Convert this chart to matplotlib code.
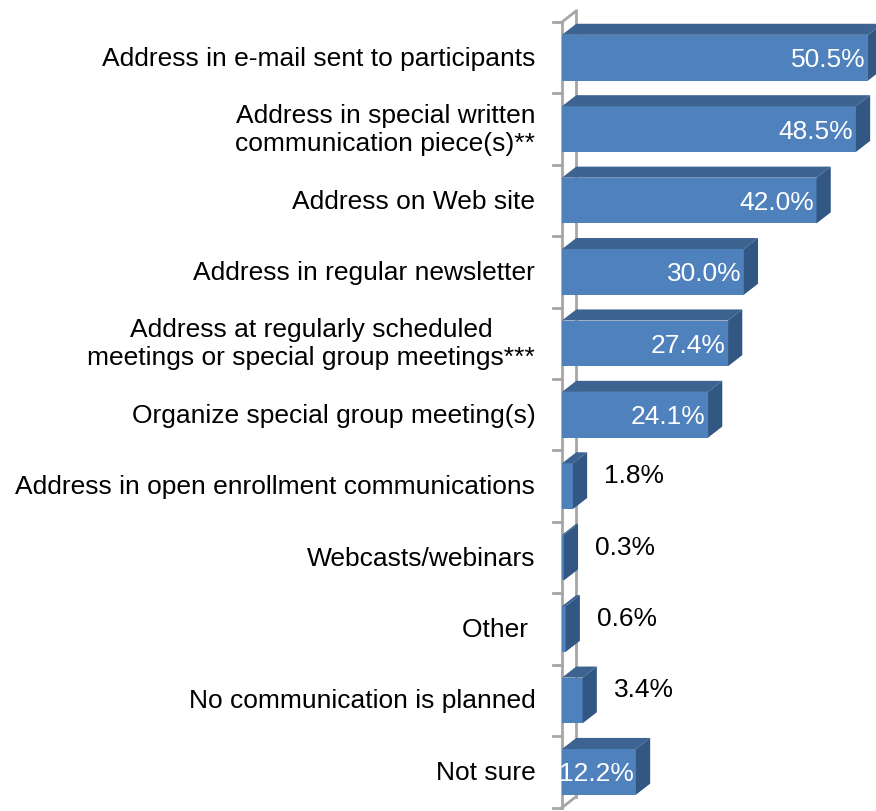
import numpy as np
import matplotlib.pyplot as plt
from matplotlib.patches import Polygon

plt.rcParams['font.family'] = ['Liberation Sans', 'DejaVu Sans']

categories = [
    'Address in e-mail sent to participants',
    'Address in special written\ncommunication piece(s)**',
    'Address on Web site',
    'Address in regular newsletter',
    'Address at regularly scheduled\nmeetings or special group meetings***',
    'Organize special group meeting(s)',
    'Address in open enrollment communications',
    'Webcasts/webinars',
    'Other ',
    'No communication is planned',
    'Not sure',
]
values = [50.5, 48.5, 42.0, 30.0, 27.4, 24.1, 1.8, 0.3, 0.6, 3.4, 12.2]

front = '#4f81bd'
top = '#3d6491'
side = '#325783'
wall = '#a6a6a6'

# 3d depth of the bars, in data units
dx, dy = 2.35, 0.155
h = 0.64
fs = 19

fig = plt.figure(figsize=(8.76, 8.12), dpi=100)
ax = fig.add_axes([562 / 876, 2 / 812, 314 / 876, 802 / 812])
n = len(categories)
ax.set_xlim(0, 314 / 6.06)
ax.set_ylim(n - 0.5 + 0.02, -0.5 - 15 / 71.5)
ax.axis('off')

# wall: front edge, back edge and the diagonals joining them
ax.plot([0, 0], [-0.5, n - 0.5], color=wall, lw=2, zorder=1, clip_on=False)
ax.plot([dx, dx], [-0.5 - dy, n - 0.5 - dy], color=wall, lw=2, zorder=1, clip_on=False)
ax.plot([0, dx], [-0.5, -0.5 - dy], color=wall, lw=2, zorder=1, clip_on=False)
ax.plot([0, dx], [n - 0.5, n - 0.5 - dy], color=wall, lw=2, zorder=1, clip_on=False)
for k in range(n + 1):
    ax.plot([-1.5, 0], [k - 0.5, k - 0.5], color=wall, lw=2, zorder=1, clip_on=False)

ypos = np.arange(n)
ax.barh(ypos, values, height=h, color=front, zorder=3)
for y, v in zip(ypos, values):
    y0, y1 = y - h / 2, y + h / 2
    ax.add_patch(Polygon([(0, y0), (v, y0), (v + dx, y0 - dy), (dx, y0 - dy)],
                         closed=True, facecolor=top, edgecolor='none', zorder=3))
    ax.add_patch(Polygon([(v, y0), (v + dx, y0 - dy), (v + dx, y1 - dy), (v, y1)],
                         closed=True, facecolor=side, edgecolor='none', zorder=3))
    if v > 10:
        ax.text(v - 0.4, y + 0.02, f'{v:.1f}%', ha='right', va='center',
                color='white', fontsize=fs, zorder=4, clip_on=False)
    else:
        ax.text(v + dx + 2.8, y - dy, f'{v:.1f}%', ha='left', va='center',
                color='black', fontsize=fs, zorder=4)

for y, c in zip(ypos, categories):
    ax.text(-4.4, y, c, ha='right', va='center', multialignment='center',
            fontsize=fs, linespacing=1.22, clip_on=False)

fig.savefig('out.png', dpi=100)
